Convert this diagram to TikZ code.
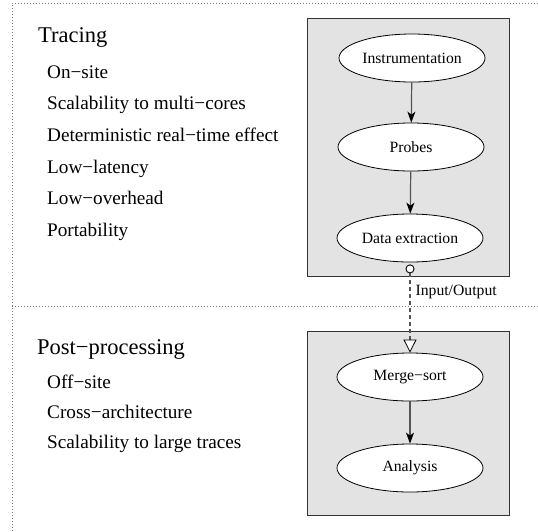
\documentclass[tikz,border=0pt]{standalone}
\usepackage{fontspec}
\setmainfont{Liberation Serif}
\usepackage{tikz}
\usetikzlibrary{shapes.geometric,arrows.meta}

\definecolor{boxfill}{RGB}{227,227,227}
\definecolor{flowgray}{RGB}{85,85,85}
\definecolor{framegray}{RGB}{120,120,120}

\begin{document}
\begin{tikzpicture}[x=1pt,y=-1pt,
	stage/.style={shape=ellipse,draw=black,line width=0.8pt,fill=white,minimum width=146pt,minimum height=48pt,inner sep=0pt,font=\fontsize{15.7}{18}\selectfont},
	phasebox/.style={shape=rectangle,draw=black!80,line width=0.8pt,fill=boxfill,minimum width=202pt,inner sep=0pt},
	title/.style={anchor=base west,inner sep=0pt,font=\fontsize{22.5}{26}\selectfont},
	item/.style={anchor=base west,inner sep=0pt,font=\fontsize{19.2}{22}\selectfont},
	flow/.style={draw=flowgray,line width=1.2pt,-{Stealth[black,length=11pt,width=8pt,inset=3pt]}},
	io/.style={draw=flowgray,line width=1.2pt,dash pattern=on 4pt off 3pt,shorten <=2pt,{Circle[open,black,fill=white,line width=0.9pt,length=9pt,width=9pt]}-{Triangle[open,black,fill=white,line width=0.8pt,length=13pt,width=13pt]}},
	frame/.style={draw=framegray,line width=0.9pt,dash pattern=on 0.9pt off 2.1pt}]

	\useasboundingbox (0,0) rectangle (538,531);

	% dotted frame
	\draw[frame] (12,531) -- (12,3) -- (538,3);
	\draw[frame] (12,306) -- (538,306);

	% tracing side
	\node[title] (tracing) at (38, 42)    {Tracing};
	\node[item] (onsite)   at (47, 78)    {On−site};
	\node[item] (multi)    at (47, 109.7) {Scalability to multi−cores};
	\node[item] (determ)   at (47, 141.4) {Deterministic real−time effect};
	\node[item] (latency)  at (47, 173.1) {Low−latency};
	\node[item] (overhead) at (47, 204.8) {Low−overhead};
	\node[item] (portab)   at (47, 236.5) {Portability};

	\node[phasebox,minimum height=258pt] (tracebox) at (408, 147) {};
	\node[stage] (instr) at (412, 58)  {Instrumentation};
	\node[stage] (probes) at (411, 147) {Probes};
	\node[stage] (extract) at (410, 238) {Data extraction};

	% post-processing side
	\node[title] (post)    at (37, 354.3) {Post−processing};
	\node[item] (offsite)  at (47, 388)   {Off−site};
	\node[item] (cross)    at (47, 418.3) {Cross−architecture};
	\node[item] (large)    at (47, 448.3) {Scalability to large traces};

	\node[phasebox,minimum height=184pt] (postbox) at (408, 423) {};
	\node[stage] (merge) at (410, 377) {Merge−sort};
	\node[stage] (analysis) at (410, 468) {Analysis};

	\path[flow] (instr) edge (probes);
	\path[flow] (probes) edge (extract);
	\path[flow] (merge) edge (analysis);
	\path[io] (extract) edge node[pos=0.33,right,xshift=3pt,inner sep=2pt,font=\fontsize{15.7}{18}\selectfont]{Input/Output} (merge);

\end{tikzpicture}
\end{document}
